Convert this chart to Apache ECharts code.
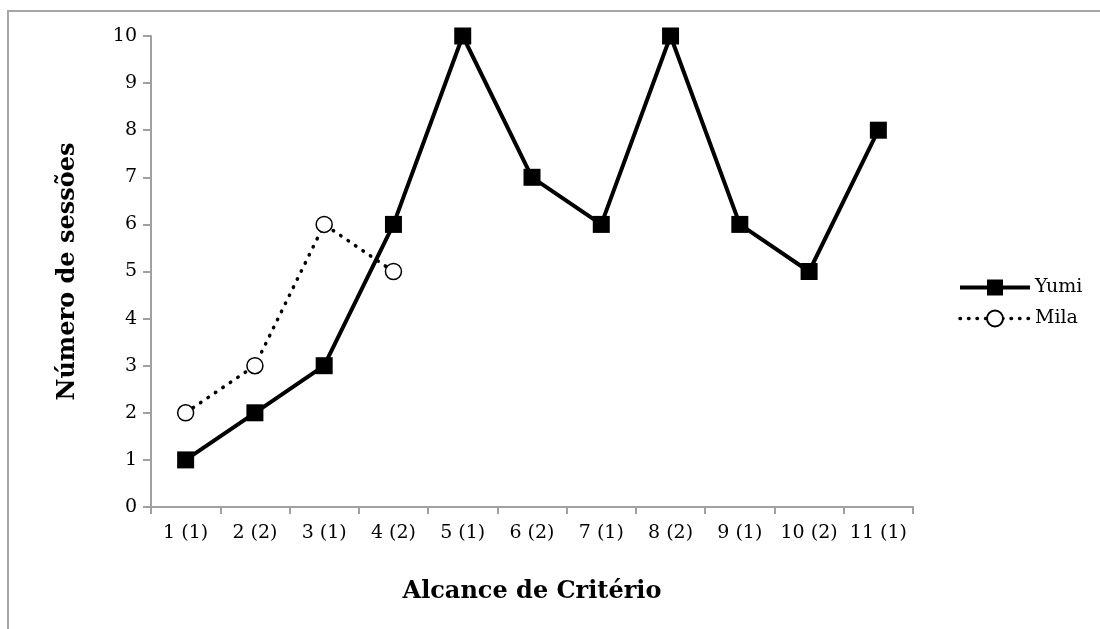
<!DOCTYPE html>
<html><head><meta charset="utf-8">
<script src="https://cdn.jsdelivr.net/npm/echarts@6/dist/echarts.min.js"></script>
<style>html,body{margin:0;padding:0;background:#fff}#c{width:1100px;height:629px}</style>
</head><body><div id="c"></div>
<script>
const categories = ['1 (1)','2 (2)','3 (1)','4 (2)','5 (1)','6 (2)','7 (1)','8 (2)','9 (1)','10 (2)','11 (1)'];
const yumi = [1,2,3,6,10,7,6,10,6,5,8];
const mila = [2,3,6,5,null,null,null,null,null,null,null];
const yTicks = {min:0, max:10, interval:1};

const serif = 'DejaVu Serif';
const chart = echarts.init(document.getElementById('c'));
chart.setOption({
  animation:false,
  backgroundColor:'#fff',
  graphic:[{type:'rect', shape:{x:8,y:11,width:1200,height:700}, style:{fill:'none',stroke:'#a6a6a6',lineWidth:2}, silent:true}],
  grid:{left:151,right:187,top:36,bottom:122},
  xAxis:{type:'category', data:categories, boundaryGap:true,
    name:'Alcance de Critério', nameLocation:'middle', nameGap:73,
    nameTextStyle:{fontFamily:serif,fontWeight:'bold',fontSize:24,color:'#000'},
    axisLine:{lineStyle:{color:'#a0a0a0',width:2}},
    axisTick:{show:true,length:7,lineStyle:{color:'#a0a0a0',width:2}},
    axisLabel:{fontFamily:serif,fontSize:19,color:'#000',margin:17,interval:0}},
  yAxis:{type:'value', min:yTicks.min, max:yTicks.max, interval:yTicks.interval,
    name:'Número de sessões', nameLocation:'middle', nameGap:71, nameRotate:90,
    nameTextStyle:{fontFamily:serif,fontWeight:'bold',fontSize:24,color:'#000'},
    splitLine:{show:false},
    axisLine:{show:true,lineStyle:{color:'#a0a0a0',width:2}},
    axisTick:{show:true,length:8,lineStyle:{color:'#a0a0a0',width:2}},
    axisLabel:{fontFamily:serif,fontSize:19,color:'#000',margin:14}},
  legend:{orient:'vertical', left:953, top:273, itemWidth:70, itemHeight:20, itemGap:12,
    textStyle:{fontFamily:serif,fontSize:19,color:'#000'},
    data:[
      {name:'Yumi', lineStyle:{width:4,color:'#000'}},
      {name:'Mila', lineStyle:{width:3.5,color:'#000',type:[0.5,8],cap:'round'}}
    ]},
  series:[
    {name:'Yumi', type:'line', data:yumi, symbol:'rect', symbolSize:17,
     itemStyle:{color:'#000'}, lineStyle:{color:'#000',width:4}, z:2},
    {name:'Mila', type:'line', data:mila, symbol:'circle', symbolSize:16, connectNulls:false,
     itemStyle:{color:'#fff',borderColor:'#000',borderWidth:1.5},
     lineStyle:{color:'#000',width:3.5,type:[0.5,8.5],cap:'round'}, z:3}
  ]
});
</script></body></html>
